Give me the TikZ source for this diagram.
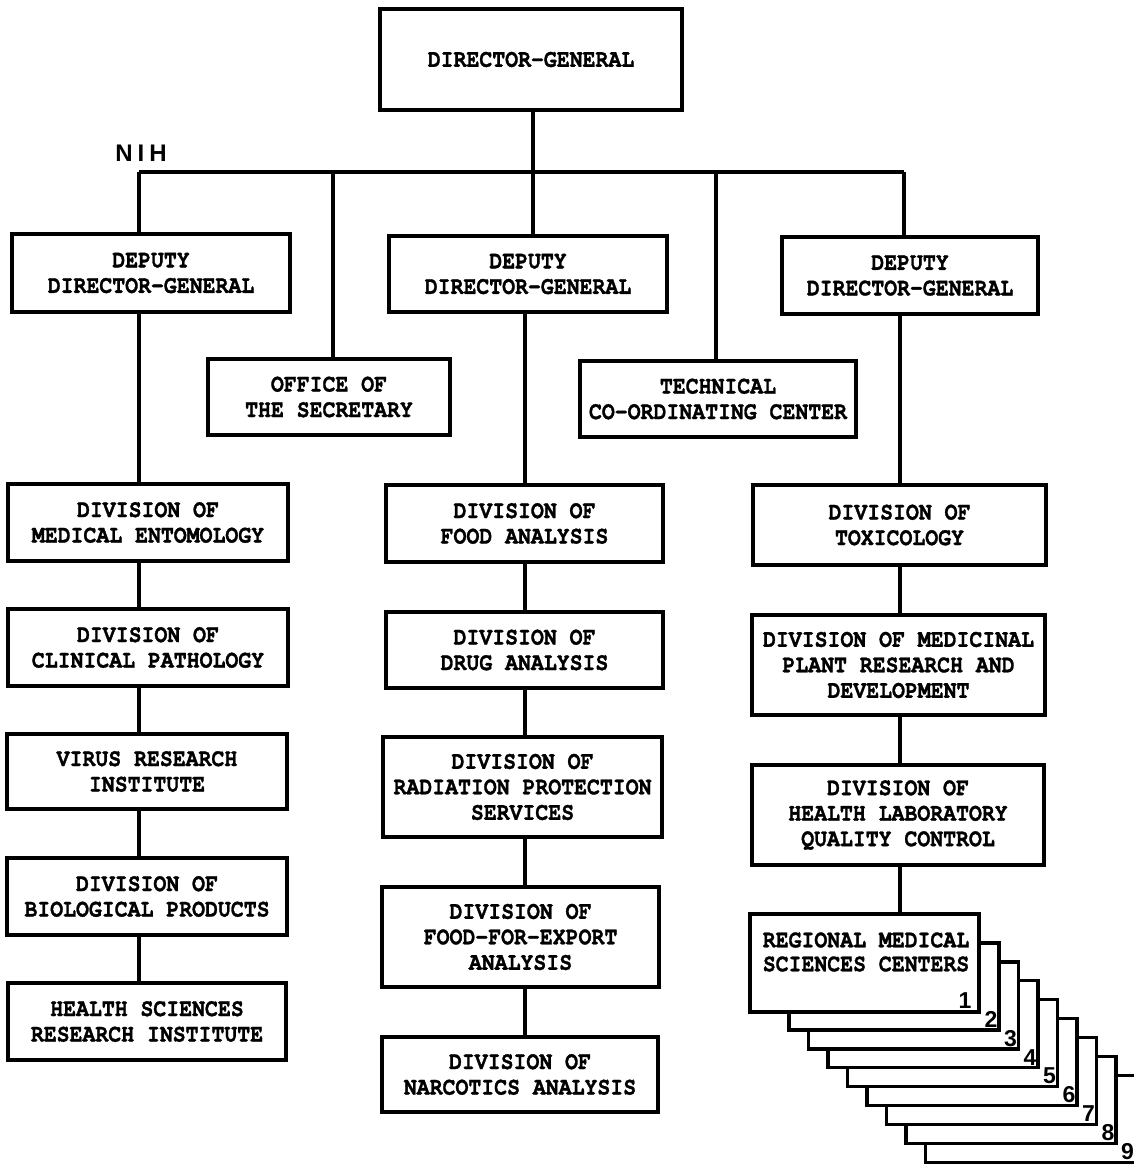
\documentclass[tikz,border=0pt]{standalone}
\usepackage{fontspec}
\newfontfamily\twfont[Extension=.otf, UprightFont=*-bold, BoldFont=*-bold, FakeStretch=0.86, FakeBold=1.2]{texgyrecursor}
\newfontfamily\nihfont{Liberation Sans Bold}
\newfontfamily\numfont{Liberation Sans Bold}
\tikzset{
  box/.style={draw, line width=3.2pt, fill=white, align=center, inner sep=0pt,
    font=\twfont\fontsize{25}{25.5}\selectfont},
  boxtext/.style={align=center, inner sep=0pt, font=\twfont\fontsize{25}{24}\selectfont},
  card/.style={draw, line width=3.2pt, fill=white, inner sep=0pt,
    minimum width=210pt, minimum height=87pt},
  conn/.style={line width=3.2pt},
  cardnum/.style={anchor=south east, inner sep=0pt, font=\numfont\fontsize{23}{23}\selectfont}
}
\newcommand{\orgbox}[6]{\node[box, minimum width=#4pt, minimum height=#5pt] (#1) at (#2,#3) {#6};}
\begin{document}
\begin{tikzpicture}[x=1pt,y=-1pt]
\useasboundingbox (0,0) rectangle (1133,1164);
\fill[white] (0,0) rectangle (1133,1164);

% top level
\orgbox{dg}{531}{59.5}{302}{101}{DIRECTOR-GENERAL}
\orgbox{ddga}{151}{273}{278}{78}{DEPUTY\\DIRECTOR-GENERAL}
\orgbox{ddgb}{528}{274}{278}{76}{DEPUTY\\DIRECTOR-GENERAL}
\orgbox{ddgc}{910}{275.5}{256}{77}{DEPUTY\\DIRECTOR-GENERAL}
\orgbox{off}{329}{397}{242}{76}{OFFICE OF\\THE SECRETARY}
\orgbox{tech}{718}{399}{276}{76}{TECHNICAL\\CO-ORDINATING CENTER}

% left column
\orgbox{ento}{148}{522.5}{280}{77}{DIVISION OF\\MEDICAL ENTOMOLOGY}
\orgbox{clin}{148}{647.5}{280}{77}{DIVISION OF\\CLINICAL PATHOLOGY}
\orgbox{virus}{147}{771.5}{280}{75}{VIRUS RESEARCH\\INSTITUTE}
\orgbox{bio}{147}{896.5}{280}{77}{DIVISION OF\\BIOLOGICAL PRODUCTS}
\orgbox{hsri}{147}{1021.5}{278}{77}{HEALTH SCIENCES\\RESEARCH INSTITUTE}

% middle column
\orgbox{food}{524.5}{523.5}{277}{77}{DIVISION OF\\FOOD ANALYSIS}
\orgbox{drug}{524.5}{650}{277}{76}{DIVISION OF\\DRUG ANALYSIS}
\orgbox{rad}{522.5}{787}{279}{100}{DIVISION OF\\RADIATION PROTECTION\\SERVICES}
\orgbox{exp}{520.5}{937}{277}{100}{DIVISION OF\\FOOD-FOR-EXPORT\\ANALYSIS}
\orgbox{narc}{520}{1074.5}{276}{75}{DIVISION OF\\NARCOTICS ANALYSIS}

% right column
\orgbox{tox}{899.5}{525}{293}{80}{DIVISION OF\\TOXICOLOGY}
\orgbox{med}{898.5}{665}{293}{100}{DIVISION OF MEDICINAL\\PLANT RESEARCH AND\\DEVELOPMENT}
\orgbox{hlqc}{898}{815}{292}{100}{DIVISION OF\\HEALTH LABORATORY\\QUALITY CONTROL}

% regional centres stack (back to front)
\foreach \k in {9,8,...,2}{
  \pgfmathsetmacro{\cx}{894+19.5*(\k-2)}
  \pgfmathsetmacro{\cy}{986.5+18.9*(\k-2)}
  \node[card] (c\k) at (\cx,\cy) {};
  \node[cardnum] (n\k) at ([shift={(-3pt,4pt)}]c\k.south east) {\k};
}
\node[box, minimum width=229pt, minimum height=98pt] (c1) at (864.5,963) {};
\node[boxtext] (regt) at (866,952) {REGIONAL MEDICAL\\SCIENCES CENTERS};
\node[cardnum] (n1) at ([shift={(-9pt,5pt)}]c1.south east) {1};

% NIH label
\node[inner sep=0pt, font=\nihfont\fontsize{24}{24}\selectfont] (nih) at (141,153) {N\hspace{5pt}I\hspace{5pt}H};

% connectors
\coordinate (busL) at (139,172);
\coordinate (busR) at (904,172);
\coordinate (jdg) at (533,172);
\coordinate (joff) at (333,172);
\coordinate (jtech) at (716,172);
\coordinate (xl) at (139,0);
\coordinate (xm) at (525,0);
\coordinate (xr) at (900,0);
\draw[conn] (busL) -- (busR);
\draw[conn] (jdg |- dg.south) -- (jdg |- ddgb.north);
\draw[conn] (busL) -- (busL |- ddga.north);
\draw[conn] (joff) -- (joff |- off.north);
\draw[conn] (jtech) -- (jtech |- tech.north);
\draw[conn] (busR) -- (busR |- ddgc.north);

\draw[conn] (xl |- ddga.south) -- (xl |- ento.north);
\draw[conn] (xl |- ento.south) -- (xl |- clin.north);
\draw[conn] (xl |- clin.south) -- (xl |- virus.north);
\draw[conn] (xl |- virus.south) -- (xl |- bio.north);
\draw[conn] (xl |- bio.south) -- (xl |- hsri.north);

\draw[conn] (xm |- ddgb.south) -- (xm |- food.north);
\draw[conn] (xm |- food.south) -- (xm |- drug.north);
\draw[conn] (xm |- drug.south) -- (xm |- rad.north);
\draw[conn] (xm |- rad.south) -- (xm |- exp.north);
\draw[conn] (xm |- exp.south) -- (xm |- narc.north);

\draw[conn] (xr |- ddgc.south) -- (xr |- tox.north);
\draw[conn] (xr |- tox.south) -- (xr |- med.north);
\draw[conn] (xr |- med.south) -- (xr |- hlqc.north);
\draw[conn] (xr |- hlqc.south) -- (xr |- c1.north);
\end{tikzpicture}
\end{document}
